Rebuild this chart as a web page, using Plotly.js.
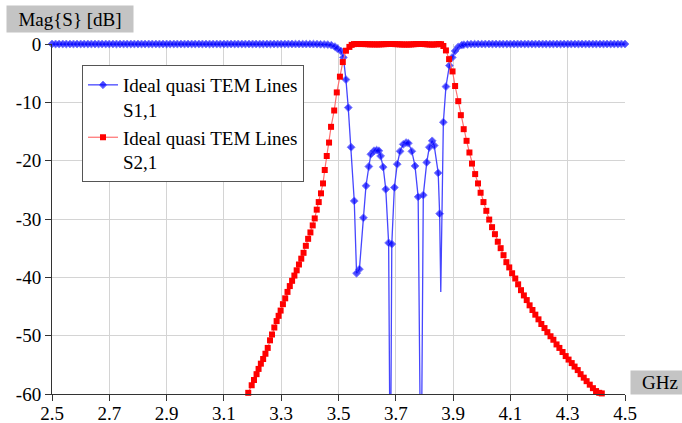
<!DOCTYPE html>
<html>
<head>
<meta charset="utf-8">
<script src="https://cdn.plot.ly/plotly-3.0.1.min.js"></script>
<style>html,body{margin:0;padding:0;background:#fff;}#chart{width:682px;height:423px;}</style>
</head>
<body>
<div id="chart"></div>
<script>
// ---- Data ----
// S1,1 (blue) frequency [GHz] and magnitude [dB]
const s11Freq = [
  2.5,2.5125,2.525,2.5375,2.55,2.5625,2.575,2.5875,
  2.6,2.6125,2.625,2.6375,2.65,2.6625,2.675,2.6875,
  2.7,2.7125,2.725,2.7375,2.75,2.7625,2.775,2.7875,
  2.8,2.8125,2.825,2.8375,2.85,2.8625,2.875,2.8875,
  2.9,2.9125,2.925,2.9375,2.95,2.9625,2.975,2.9875,
  3.0,3.0125,3.025,3.0375,3.05,3.0625,3.075,3.0875,
  3.1,3.1125,3.125,3.1375,3.15,3.1625,3.175,3.1875,
  3.2,3.2125,3.225,3.2375,3.25,3.2625,3.275,3.2875,
  3.3,3.3125,3.325,3.3375,3.35,3.3625,3.375,3.3875,
  3.4,3.4125,3.425,3.4375,3.45,
  3.4625,3.475,3.4875,3.496,3.508,3.517,3.526,3.534,3.544,3.555,
  3.563,3.573,3.587,3.596,3.606,3.613,3.624,3.633,3.641,3.647,
  3.656,3.665,3.675,3.681,3.686,3.695,3.705,3.715,3.726,3.736,
  3.744,3.756,3.767,3.778,3.788,3.796,3.808,3.817,3.827,3.834,
  3.848,3.853,3.857,3.866,3.875,3.887,3.897,3.907,3.918,3.930,
  3.9375,3.95,3.9625,3.975,3.9875,
  4.0,4.0125,4.025,4.0375,4.05,4.0625,4.075,4.0875,
  4.1,4.1125,4.125,4.1375,4.15,4.1625,4.175,4.1875,
  4.2,4.2125,4.225,4.2375,4.25,4.2625,4.275,4.2875,
  4.3,4.3125,4.325,4.3375,4.35,4.3625,4.375,4.3875,
  4.4,4.4125,4.425,4.4375,4.45,4.4625,4.475,4.4875,
  4.5
];
const s11dB = [
  0,0,0,0,0,0,0,0,
  0,0,0,0,0,0,0,0,
  0,0,0,0,0,0,0,0,
  0,0,0,0,0,0,0,0,
  0,0,0,0,0,0,0,0,
  0,0,0,0,0,0,0,0,
  0,0,0,0,0,0,0,0,
  0,0,0,0,0,0,0,0,
  0,0,0,0,-0.01,-0.01,-0.01,-0.01,
  -0.01,-0.02,-0.03,-0.05,-0.07,
  -0.1,-0.2,-0.45,-0.8,-1.2,-2.3,-6.1,-10.9,-17.7,-26.9,
  -39.3,-38.6,-29.8,-24.3,-21.0,-18.9,-18.3,-18.2,-18.3,-19.2,
  -21.1,-24.9,-34.1,-80,-34.3,-24.6,-20.6,-18.4,-17.2,-16.9,
  -17.0,-18.4,-20.9,-26.2,-80,-25.9,-20.3,-17.7,-16.6,-17.4,
  -22.1,-29.1,-42.5,-13.4,-7.3,-3.7,-2.3,-1.2,-0.5,-0.2,
  -0.12,-0.06,-0.03,-0.02,-0.01,
  -0.01,0,0,0,0,0,0,0,
  0,0,0,0,0,0,0,0,
  0,0,0,0,0,0,0,0,
  0,0,0,0,0,0,0,0,
  0,0,0,0,0,0,0,0,
  0
];
// S2,1 (red) frequency [GHz] and magnitude [dB]
const s21Freq = [
  3.185,3.197,3.205,3.214,3.221,3.229,3.237,3.245,3.253,3.261,
  3.268,3.276,3.284,3.291,3.298,3.306,3.314,3.322,3.330,3.338,
  3.346,3.354,3.362,3.370,3.378,3.386,3.394,3.402,3.410,3.417,
  3.424,3.431,3.439,3.446,3.452,3.459,3.467,3.474,3.485,3.494,
  3.505,3.515,3.526,3.538,
  3.546,3.554,3.562,3.570,3.578,3.586,3.594,3.602,3.610,3.618,
  3.626,3.634,3.642,3.650,3.658,3.666,3.674,3.682,3.690,3.698,
  3.706,3.714,3.722,3.730,3.738,3.746,3.754,3.762,3.770,3.778,
  3.786,3.794,3.802,3.810,3.818,3.826,3.834,3.842,3.850,3.858,
  3.866,3.875,3.886,3.898,3.907,3.918,3.927,3.937,3.947,3.957,
  3.966,3.977,3.987,3.996,4.006,4.016,4.026,4.036,4.046,4.056,
  4.066,4.076,4.086,4.096,4.106,4.117,4.127,4.137,4.147,4.157,
  4.167,4.177,4.187,4.198,4.208,4.219,4.229,4.240,4.250,4.261,
  4.271,4.282,4.293,4.303,4.314,4.324,4.335,4.345,4.356,4.366,
  4.377,4.388,4.399,4.410,4.419
];
const s21dB = [
  -59.8,-58.5,-57.6,-56.6,-55.7,-54.8,-54.0,-53.1,-52.1,-50.8,
  -49.8,-48.6,-47.5,-46.6,-45.7,-44.6,-43.6,-42.5,-41.5,-40.6,
  -39.7,-38.8,-37.8,-36.8,-35.8,-34.6,-33.4,-32.3,-31.1,-29.9,
  -28.4,-27.1,-25.6,-23.9,-21.6,-19.2,-16.9,-14.2,-11.4,-8.3,
  -5.6,-3.1,-1.15,-0.5,
  -0.15,-0.02,0,0,-0.01,-0.005,-0.02,-0.04,-0.06,-0.06,
  -0.07,-0.07,-0.07,-0.05,-0.03,-0.015,-0.002,0,-0.005,-0.02,
  -0.04,-0.06,-0.08,-0.09,-0.09,-0.085,-0.07,-0.04,-0.015,-0.005,
  0,-0.005,-0.02,-0.06,-0.08,-0.095,-0.09,-0.05,-0.01,-0.03,
  -0.34,-1.1,-2.6,-4.7,-7.2,-9.8,-12.2,-14.6,-16.6,-18.6,
  -20.5,-22.3,-23.9,-25.5,-27.1,-28.6,-30.1,-31.4,-32.6,-33.9,
  -35.0,-36.2,-37.4,-38.3,-39.3,-40.2,-41.2,-42.2,-43.1,-43.9,
  -44.8,-45.6,-46.4,-47.2,-48.0,-48.7,-49.4,-50.1,-50.7,-51.5,
  -52.1,-52.8,-53.5,-54.1,-54.7,-55.3,-55.9,-56.6,-57.2,-57.8,
  -58.4,-59.0,-59.5,-59.8,-59.9
];
const xTickVals = [2.5,2.7,2.9,3.1,3.3,3.5,3.7,3.9,4.1,4.3,4.5];
const xTickText = ['2.5','2.7','2.9','3.1','3.3','3.5','3.7','3.9','4.1','4.3','4.5'];
const yTickVals = [0,-10,-20,-30,-40,-50,-60];
const yTickText = ['0','-10','-20','-30','-40','-50','-60'];
const seriesNames = ['Ideal quasi TEM Lines<br>S1,1','Ideal quasi TEM Lines<br>S2,1'];
const yAxisLabel = 'Mag{S} [dB]';
const xAxisLabel = 'GHz';

// ---- Chart ----
const FONT = "'Liberation Serif', 'Times New Roman', Times, serif";
const yMin = -60, yMax = 0;
const blueSizes = s11dB.map(v => (v < -40 ? 0 : 6));

const traces = [
  {
    x: s11Freq, y: s11dB, name: seriesNames[0], type: 'scatter', mode: 'lines+markers',
    line: {color: '#4646ff', width: 1.3},
    marker: {symbol: 'diamond', size: blueSizes, color: '#0000ff'},
    cliponaxis: false
  },
  {
    x: s21Freq, y: s21dB, name: seriesNames[1], type: 'scatter', mode: 'lines+markers',
    line: {color: '#ff7070', width: 1.2},
    marker: {symbol: 'square', size: 6, color: '#ff0000'},
    cliponaxis: false
  }
];

const L = 52, R = 57, T = 44, B = 29, W = 682, H = 423;
const pw = W - L - R, ph = H - T - B;
const px = v => (v - L) / pw;
const py = v => 1 - (v - T) / ph;

const layout = {
  width: W, height: H,
  margin: {l: L, r: R, t: T, b: B, pad: 0},
  paper_bgcolor: '#ffffff', plot_bgcolor: '#ffffff',
  font: {family: FONT, size: 19, color: '#000'},
  showlegend: true,
  legend: {
    x: px(82), y: py(65), xanchor: 'left', yanchor: 'top',
    bgcolor: '#ffffff', bordercolor: '#555555', borderwidth: 1,
    font: {family: FONT, size: 19, color: '#000'},
    valign: 'top', tracegroupgap: 0
  },
  xaxis: {
    range: [2.5, 4.5], tickmode: 'array', tickvals: xTickVals, ticktext: xTickText,
    showgrid: true, gridcolor: '#d4d4d4', gridwidth: 1,
    showline: true, linecolor: '#333333', linewidth: 1,
    ticks: 'outside', ticklen: 6, tickcolor: '#333333', ticklabelstandoff: -4,
    zeroline: false, tickfont: {family: FONT, size: 19, color: '#000'}
  },
  yaxis: {
    range: [yMin, yMax], tickmode: 'array', tickvals: yTickVals, ticktext: yTickText,
    showgrid: true, gridcolor: '#d4d4d4', gridwidth: 1,
    showline: true, linecolor: '#333333', linewidth: 1,
    ticks: 'outside', ticklen: 6, tickcolor: '#333333',
    zeroline: false, tickfont: {family: FONT, size: 19, color: '#000'}
  },
  annotations: [
    {
      text: yAxisLabel, xref: 'paper', yref: 'paper', x: px(6), y: py(5),
      xanchor: 'left', yanchor: 'top', showarrow: false,
      width: 126, height: 26, bgcolor: '#c4c4c4', borderpad: 0, align: 'center',
      font: {family: FONT, size: 19, color: '#000'}
    },
    {
      text: xAxisLabel, xref: 'paper', yref: 'paper', x: px(630), y: py(370),
      xanchor: 'left', yanchor: 'top', showarrow: false,
      width: 58, height: 23, bgcolor: '#c4c4c4', borderpad: 0, align: 'center',
      font: {family: FONT, size: 19, color: '#000'}
    }
  ]
};

Plotly.newPlot('chart', traces, layout, {displayModeBar: false, staticPlot: true});
</script>
</body>
</html>
